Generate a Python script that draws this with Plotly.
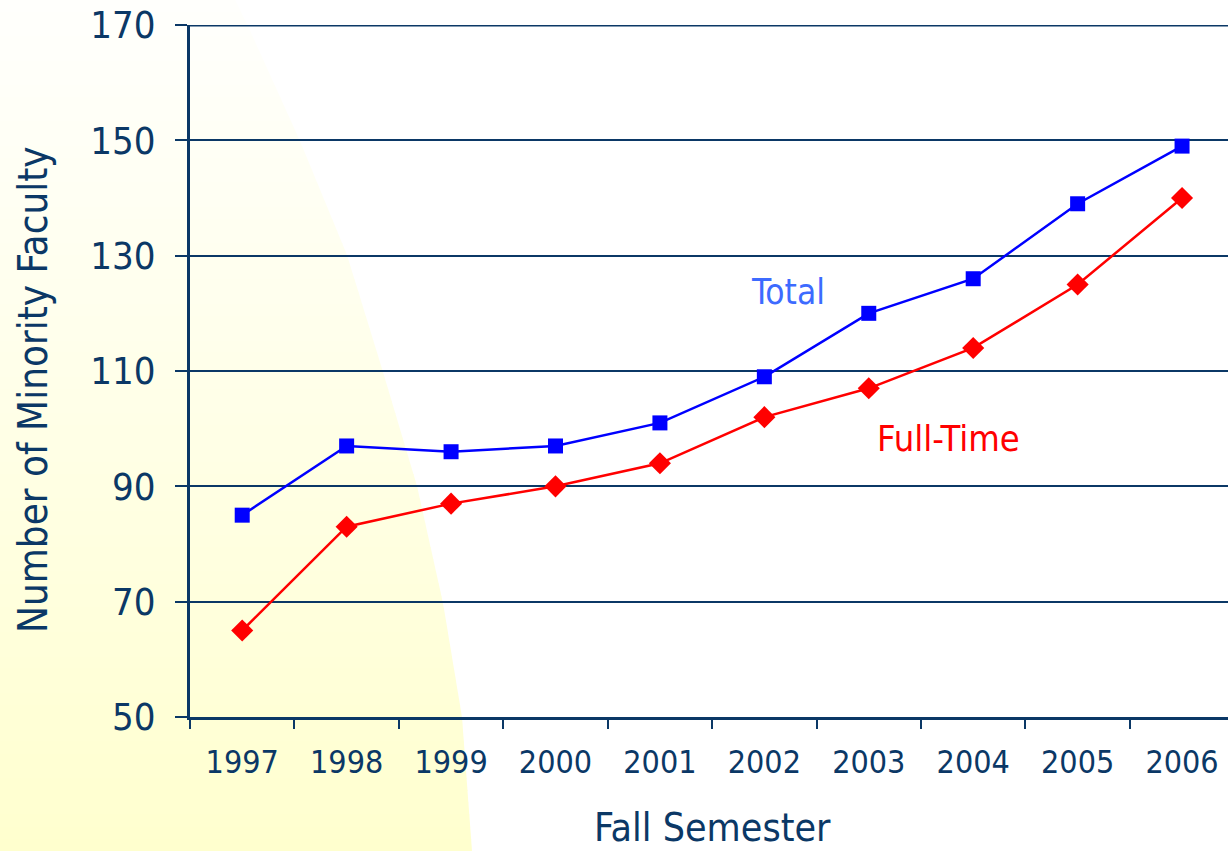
import plotly.graph_objects as go

years = ["1997", "1998", "1999", "2000", "2001", "2002", "2003", "2004", "2005", "2006"]
total = [85, 97, 96, 97, 101, 109, 120, 126, 139, 149]
full_time = [65, 83, 87, 90, 94, 102, 107, 114, 125, 140]
y_ticks = [50, 70, 90, 110, 130, 150, 170]

W, H = 1228, 851
L, R, T, B = 190, 0, 25, 134
PW, PH = W - L - R, H - T - B
NAVY = "#0b3866"


def px(x):
    return (x - L) / PW


def py(y):
    return (H - B - y) / PH


# background glow (decoration): boundary of the yellow area in pixels
bnd = [(-60, 225), (0, 235), (24, 247), (141, 300), (255, 347), (372, 383),
       (486, 417), (603, 443), (717, 462), (851, 472), (900, 474)]


def bx(y):
    for (y0, x0), (y1, x1) in zip(bnd[:-1], bnd[1:]):
        if y0 <= y <= y1:
            return x0 + (x1 - x0) * (y - y0) / (y1 - y0)
    return bnd[-1][1]


shapes = []
N = 70
for i in range(N):
    y0 = i * H / N
    y1 = (i + 1) * H / N + 0.8
    t = (i + 0.5) / N
    b = int(round(252 - 46 * t ** 1.1))
    path = "M {:.4f},{:.4f} L {:.4f},{:.4f} L {:.4f},{:.4f} L {:.4f},{:.4f} Z".format(
        px(-5), py(y0), px(bx(y0)), py(y0), px(bx(y1)), py(y1), px(-5), py(y1))
    shapes.append(dict(type="path", path=path, xref="paper", yref="paper",
                       fillcolor="rgb(255,255,{})".format(b), line=dict(width=0),
                       layer="below"))

# top gridline (at the range edge, which plotly omits)
shapes.append(dict(type="line", xref="paper", x0=0, x1=1, yref="y",
                   y0=y_ticks[-1], y1=y_ticks[-1],
                   line=dict(color=NAVY, width=3), layer="below"))

fig = go.Figure()
fig.add_trace(go.Scatter(x=years, y=total, mode="lines+markers", name="Total",
                         line=dict(color="#0000ff", width=2.5),
                         marker=dict(symbol="square", size=15, color="#0000ff")))
fig.add_trace(go.Scatter(x=years, y=full_time, mode="lines+markers", name="Full-Time",
                         line=dict(color="#ff0000", width=2.5),
                         marker=dict(symbol="diamond", size=17, color="#ff0000")))

fig.update_layout(
    width=W, height=H,
    margin=dict(l=L, r=R, t=T, b=B, pad=0),
    paper_bgcolor="white",
    plot_bgcolor="rgba(0,0,0,0)",
    showlegend=False,
    shapes=shapes,
    xaxis=dict(type="category", range=[-0.5, 9.44], showgrid=False,
               showline=True, linecolor=NAVY, linewidth=3,
               ticks="outside", tickson="boundaries", ticklen=9, tickwidth=2,
               tickcolor=NAVY, ticklabelstandoff=15,
               tickfont=dict(family="DejaVu Sans Condensed", size=32, color=NAVY)),
    yaxis=dict(range=[50, 170], tickvals=y_ticks, showgrid=True, gridcolor=NAVY,
               gridwidth=2, showline=True, linecolor=NAVY, linewidth=3,
               ticks="outside", ticklen=12, tickwidth=2, tickcolor=NAVY,
               ticklabelstandoff=12, zeroline=False,
               tickfont=dict(family="DejaVu Sans Condensed", size=38, color=NAVY)),
    annotations=[
        dict(text="Number of Minority Faculty", textangle=-90, xref="paper", yref="paper",
             x=px(33), y=py(390), showarrow=False, xanchor="center", yanchor="middle",
             font=dict(family="DejaVu Sans Condensed", size=40, color=NAVY)),
        dict(text="Fall Semester", xref="paper", yref="paper",
             x=px(712), y=py(827), showarrow=False, xanchor="center", yanchor="middle",
             font=dict(family="DejaVu Sans Condensed", size=39, color=NAVY)),
        dict(text="Total", xref="paper", yref="paper",
             x=px(788), y=py(292), showarrow=False, xanchor="center", yanchor="middle",
             font=dict(family="DejaVu Sans Condensed", size=35, color="#3d6bff")),
        dict(text="Full-Time", xref="paper", yref="paper",
             x=px(948), y=py(438), showarrow=False, xanchor="center", yanchor="middle",
             font=dict(family="DejaVu Sans Condensed", size=36, color="#ff0000")),
    ],
)

fig.write_html("out.html", config={"displayModeBar": False},
               post_script="document.body.style.margin='0px';")
